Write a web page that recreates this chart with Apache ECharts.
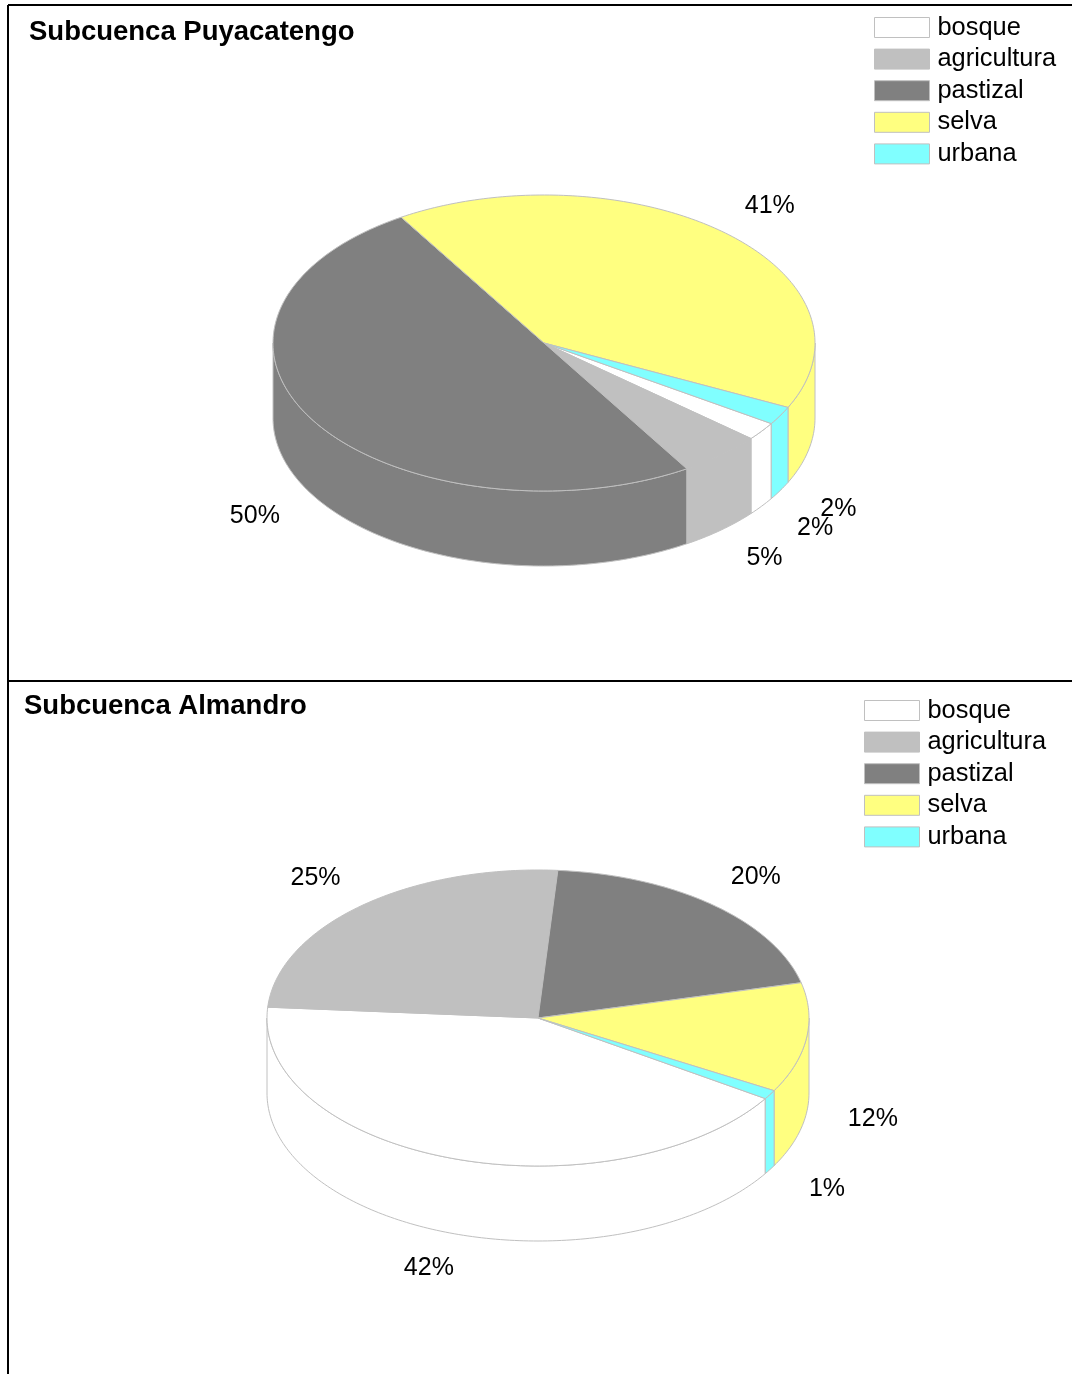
<!DOCTYPE html>
<html><head><meta charset="utf-8">
<script src="https://cdn.jsdelivr.net/npm/echarts@6/dist/echarts.min.js"></script>
<style>html,body{margin:0;padding:0;background:#fff}#c{width:1072px;height:1374px}</style>
</head><body><div id="c"></div>
<script>
const categories = ['bosque','agricultura','pastizal','selva','urbana'];
const colors = ['#ffffff','#c0c0c0','#808080','#ffff80','#80ffff'];
const puyacatengoValues = [2,5,50,41,2];
const almandroValues = [42,25,20,12,1];
const pieTitles = ['Subcuenca Puyacatengo','Subcuenca Almandro'];

const FONT = '"Liberation Sans", Arial, sans-serif';
const layouts = [
  {cx:544,cy:343,start:123,legendLeft:874,legendTop:15,titleLeft:29,titleTop:18},
  {cx:538,cy:1018,start:123,legendLeft:864,legendTop:698,titleLeft:24,titleTop:692}
];
const RX=271, RY=148, DEPTH=75, LABEL_DX=68, LABEL_DY=35, LABEL_SHIFT_FRONT=1.5, LABEL_SHIFT_BACK=-1;
const rad = d => d*Math.PI/180;
const pt = (l,t,dy=0,ex=0,ey=0) => [l.cx+(RX+ex)*Math.sin(rad(t)), l.cy-(RY+ey)*Math.cos(rad(t))+dy];
function arc(l,a,b,dy=0){const n=Math.max(2,Math.ceil(Math.abs(b-a)));const p=[];for(let i=0;i<=n;i++)p.push(pt(l,a+(b-a)*i/n,dy));return p;}

function makeSeries(values,l){
  const total=values.reduce((s,v)=>s+v,0);
  let acc=l.start;
  return categories.map((name,i)=>{
    const a=acc, b=acc+values[i]/total*360; acc=b;
    const style={fill:colors[i],stroke:'#c0c0c0',lineWidth:1};
    return {
      type:'custom',name,coordinateSystem:'none',silent:true,
      itemStyle:{color:colors[i]},
      data:[[values[i]]],
      renderItem(params,api){
        const kids=[];
        [0,360].forEach(k=>{
          const lo=Math.max(a,90+k),hi=Math.min(b,270+k);
          if(hi>lo){
            kids.push({type:'polygon',z2:1,shape:{points:arc(l,lo,hi).concat(arc(l,hi,lo,DEPTH))},style});
          }
        });
        kids.push({type:'polygon',z2:2,shape:{points:[[l.cx,l.cy]].concat(arc(l,a,b))},style});
        const mid=(a+b)/2, front=Math.cos(rad(mid))<0;
        const p=pt(l,mid,front?DEPTH+LABEL_SHIFT_FRONT:LABEL_SHIFT_BACK,LABEL_DX,LABEL_DY);
        kids.push({type:'text',z2:3,style:{x:p[0]-1,y:p[1],text:api.value(0)+'%',fill:'#000',font:'25px '+FONT,textAlign:'center',textVerticalAlign:'middle'}});
        return {type:'group',children:kids};
      }
    };
  });
}
const frame=[[8,5,1072,5],[8,5,8,1374],[8,681,1072,681]];
const chart=echarts.init(document.getElementById('c'),null,{renderer:'canvas'});
chart.setOption({
  animation:false,backgroundColor:'#fff',
  title:pieTitles.map((t,i)=>({text:t,left:layouts[i].titleLeft,top:layouts[i].titleTop,padding:0,
    textStyle:{fontFamily:FONT,fontWeight:'bold',fontSize:27.5,color:'#000'}})),
  legend:layouts.map(l=>({data:categories,orient:'vertical',left:l.legendLeft,top:l.legendTop,padding:0,
    icon:'rect',itemWidth:55,itemHeight:20,itemGap:6.6,selectedMode:false,
    itemStyle:{borderColor:'#c0c0c0',borderWidth:1},
    textStyle:{fontFamily:FONT,fontSize:25.4,color:'#000',padding:[0,0,0,3]}})),
  graphic:frame.map(s=>({type:'line',z:10,shape:{x1:s[0],y1:s[1],x2:s[2],y2:s[3]},style:{stroke:'#000',lineWidth:2}})),
  series:makeSeries(puyacatengoValues,layouts[0]).concat(makeSeries(almandroValues,layouts[1]))
});
</script></body></html>
